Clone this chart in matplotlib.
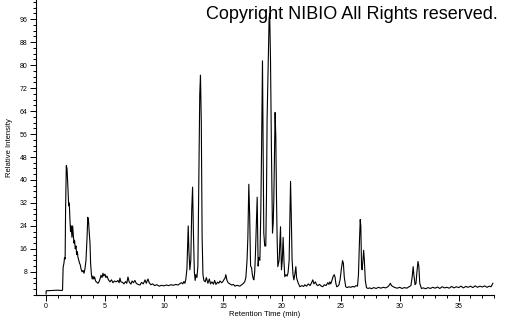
import numpy as np
import matplotlib
matplotlib.use("Agg")
import matplotlib.pyplot as plt
from matplotlib.ticker import MultipleLocator

# Retention time (min) and relative intensity
time_min = [
    0.00, 0.02, 0.5, 1.0, 1.35, 1.40, 1.45, 1.52, 1.57, 1.62, 1.66, 1.72, 1.78, 1.85, 1.92, 1.97,
    2.03, 2.08, 2.13, 2.20, 2.26, 2.31, 2.37, 2.42, 2.48, 2.54, 2.60, 2.66, 2.71, 2.78, 2.84, 2.90,
    2.97, 3.05, 3.14, 3.22, 3.30, 3.39, 3.48, 3.54, 3.60, 3.66, 3.73, 3.78, 3.85, 3.92, 3.98, 4.05,
    4.12, 4.20, 4.30, 4.40, 4.49, 4.58, 4.66, 4.75, 4.83, 4.90, 5.00, 5.08, 5.17, 5.28, 5.42, 5.55,
    5.68, 5.80, 5.95, 6.10, 6.20, 6.27, 6.35, 6.50, 6.61, 6.75, 6.85, 6.95, 7.05, 7.20, 7.30, 7.42,
    7.54, 7.65, 7.80, 7.97, 8.10, 8.25, 8.40, 8.50, 8.65, 8.75, 8.90, 9.05, 9.20, 9.40, 9.60, 9.80,
    10.00, 10.20, 10.40, 10.60, 10.80, 11.00, 11.20, 11.36, 11.50, 11.60, 11.69, 11.78, 11.86, 11.95,
    12.06, 12.12, 12.20, 12.28, 12.36, 12.43, 12.50, 12.58, 12.65, 12.71, 12.80, 12.88, 12.96, 13.04,
    13.10, 13.17, 13.24, 13.31, 13.39, 13.50, 13.60, 13.73, 13.85, 13.95, 14.07, 14.20, 14.30, 14.41,
    14.55, 14.65, 14.75, 14.90, 15.00, 15.08, 15.18, 15.25, 15.35, 15.45, 15.59, 15.75, 15.90, 16.02,
    16.20, 16.44, 16.60, 16.75, 16.86, 16.95, 17.05, 17.12, 17.20, 17.27, 17.35, 17.43, 17.50, 17.58,
    17.63, 17.70, 17.76, 17.84, 17.91, 17.96, 17.99, 18.05, 18.14, 18.22, 18.28, 18.36, 18.42, 18.47,
    18.55, 18.64, 18.70, 18.75, 18.82, 18.92, 18.97, 19.04, 19.12, 19.21, 19.27, 19.32, 19.38, 19.43,
    19.49, 19.55, 19.60, 19.66, 19.72, 19.77, 19.83, 19.89, 19.93, 19.97, 20.04, 20.11, 20.18, 20.25,
    20.35, 20.45, 20.53, 20.62, 20.70, 20.74, 20.80, 20.87, 20.95, 21.02, 21.10, 21.19, 21.25, 21.30,
    21.40, 21.53, 21.70, 21.85, 21.95, 22.10, 22.25, 22.40, 22.50, 22.63, 22.72, 22.85, 22.95, 23.05,
    23.20, 23.35, 23.47, 23.60, 23.75, 23.90, 24.00, 24.07, 24.15, 24.25, 24.35, 24.45, 24.52, 24.58,
    24.66, 24.75, 24.85, 24.95, 25.05, 25.15, 25.22, 25.30, 25.42, 25.55, 25.70, 25.85, 26.00, 26.15,
    26.30, 26.42, 26.50, 26.58, 26.65, 26.70, 26.76, 26.81, 26.88, 26.94, 27.00, 27.08, 27.18, 27.30,
    27.46, 27.60, 27.80, 28.00, 28.20, 28.40, 28.60, 28.80, 29.00, 29.12, 29.21, 29.30, 29.45, 29.60,
    29.80, 30.00, 30.20, 30.40, 30.60, 30.80, 30.95, 31.05, 31.14, 31.20, 31.30, 31.38, 31.46, 31.55,
    31.62, 31.70, 31.84, 32.00, 32.20, 32.40, 32.60, 32.80, 33.00, 33.20, 33.40, 33.60, 33.80, 34.00,
    34.20, 34.40, 34.60, 34.80, 35.00, 35.20, 35.40, 35.60, 35.80, 36.00, 36.20, 36.40, 36.60, 36.80,
    37.00, 37.20, 37.40, 37.60, 37.75, 37.85, 37.90,
]
intensity = [
    0.3, 1.4, 1.5, 1.6, 1.5, 1.6, 9.5, 11, 13, 12.5, 30, 45, 44, 38, 31, 32,
    26, 22, 24, 20, 24, 21, 18, 19, 16, 17, 14, 15, 13, 12, 11, 10.5,
    9, 8, 8.5, 7.5, 9, 12, 20, 27, 26, 22, 18, 11, 7, 5.5, 6.5, 5.5,
    6.2, 4.8, 4.4, 4.0, 4.5, 5.5, 6.8, 6.0, 7.5, 6.5, 7.2, 6.0, 6.5, 5.3, 4.5, 5.2,
    4.2, 4.8, 4.5, 5.0, 4.2, 5.8, 4.5, 4.3, 3.8, 4.6, 4.0, 6.2, 4.5, 3.7, 4.8, 4.2,
    5.0, 4.0, 3.6, 3.4, 4.3, 3.8, 5.2, 4.0, 5.5, 4.2, 3.5, 3.8, 3.2, 3.5, 3.0, 3.3,
    3.1, 3.4, 3.2, 3.5, 3.3, 3.6, 3.4, 3.9, 4.2, 3.8, 4.6, 4.0, 5.5, 9,
    24, 15, 8.7, 12, 30, 37.5, 22, 8, 5, 7, 6, 10, 40, 70,
    76.5, 60, 20, 7, 5, 4.5, 6, 4, 5.5, 3.8, 4.5, 3.7, 5, 3.6,
    4.4, 4.0, 4.8, 4.2, 4.6, 5.2, 5.8, 7.0, 5.0, 4.2, 3.8, 3.4, 3.6, 3.0,
    3.3, 3.0, 3.5, 4.0, 4.6, 6, 12, 20, 38.5, 28, 10, 9.5, 7, 5.5,
    5.2, 8, 14, 25, 34, 20, 10, 13, 12, 30, 50, 81.5, 50, 21.5,
    17, 17, 35, 61, 75, 96, 98, 82, 50, 21.5, 25, 33, 50, 63.5,
    55, 33, 20, 9.8, 11, 12, 18, 23.7, 15, 8.7, 12, 20, 12, 6.3,
    7, 6.5, 7.7, 12, 30, 39.5, 28, 12.2, 7, 5.2, 7, 9.8, 6, 5.2,
    4, 2.8, 3.2, 2.9, 3.5, 3.0, 3.8, 3.2, 4.0, 5.2, 3.8, 4.5, 3.5, 3.2,
    3.6, 3.0, 2.8, 3.5, 3.2, 4.2, 3.6, 4.5, 3.8, 5.0, 6.4, 7.0, 6.0, 4.0,
    2.8, 3.0, 3.5, 5.5, 9, 11.9, 11, 6, 2.8, 2.5, 2.8, 2.6, 2.9, 2.7,
    3.2, 3.0, 7, 18, 26.2, 24, 10, 8.7, 12, 15.5, 12, 5, 2.5, 2.2,
    2.4, 2.1, 2.5, 2.2, 2.6, 2.3, 2.6, 2.4, 2.8, 3.4, 4.0, 3.2, 2.8, 2.5,
    2.3, 2.6, 2.2, 2.5, 2.3, 2.8, 3.2, 6, 9.8, 7, 3.5, 4, 8, 11.6,
    10, 4, 2.2, 2.4, 2.1, 2.5, 2.2, 2.6, 2.3, 2.7, 2.2, 2.8, 2.4, 2.6,
    2.3, 2.9, 2.4, 2.8, 2.5, 3.0, 2.4, 2.9, 2.6, 3.0, 2.5, 3.1, 2.6, 3.0,
    2.7, 3.1, 2.6, 3.0, 2.8, 3.6, 4.0,
]
y_ticks = [8, 16, 24, 32, 40, 48, 56, 64, 72, 80, 88, 96]
x_ticks = [0, 5, 10, 15, 20, 25, 30, 35]

plt.rcParams['font.family'] = ['Liberation Sans', 'DejaVu Sans']

fig = plt.figure(figsize=(5.05, 3.25), dpi=100)
ax = fig.add_axes([0.0713, 0.093, 0.907, 0.907])

ax.plot(time_min, intensity, color="black", linewidth=0.8)

ax.set_xlim(-0.85, 38.0)
ax.set_ylim(0, 102.7)

ax.spines["top"].set_visible(False)
ax.spines["right"].set_visible(False)
for s in ("left", "bottom"):
    ax.spines[s].set_linewidth(0.8)

ax.set_xticks(x_ticks)
ax.set_yticks(y_ticks)
ax.xaxis.set_minor_locator(MultipleLocator(1))
ax.yaxis.set_minor_locator(MultipleLocator(2))
ax.tick_params(which="major", length=4, width=0.7, labelsize=5, pad=2)
ax.tick_params(which="minor", length=2, width=0.7)

ax.set_xlabel("Retention Time (min)", fontsize=5.5, labelpad=1)
ax.set_ylabel("Relative Intensity", fontsize=5.5, labelpad=5)

fig.text(0.986, 0.955, "Copyright NIBIO All Rights reserved.", ha="right", va="center",
         fontsize=13, color="black")

fig.savefig("out.png", dpi=100)
